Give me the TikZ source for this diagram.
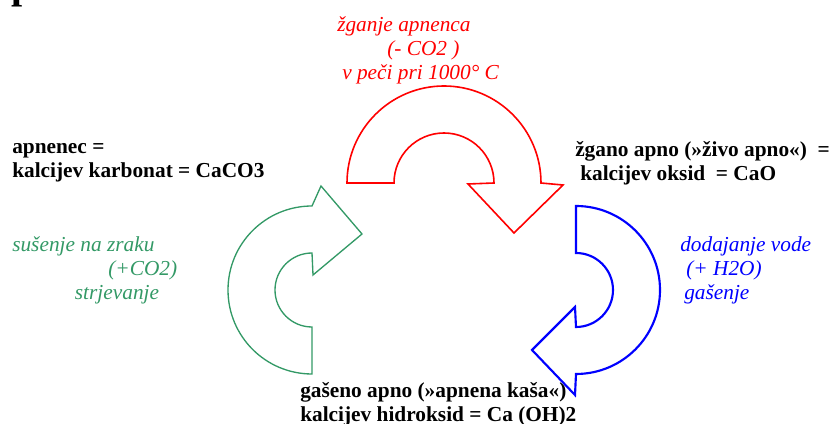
\documentclass[tikz,border=0pt]{standalone}
\usepackage{fontspec}
\setmainfont{Liberation Serif}
\definecolor{airgreen}{RGB}{51,153,102}

\begin{document}
\begin{tikzpicture}[x=0.75pt,y=0.75pt,line join=miter,
  state text/.style={font=\fontsize{16}{18}\selectfont\bfseries,align=left,anchor=west,inner sep=0pt},
  process text/.style={font=\fontsize{16}{18}\selectfont\itshape,align=left,anchor=west,inner sep=0pt},
  big arrow/.style={line width=1.2pt}]

  \useasboundingbox (0,0) rectangle (832,424);

  \node[state text,font=\fontsize{30}{36}\selectfont\bfseries,anchor=base west] (title) at (11,425) {p};

  % the three arrows
  \draw[big arrow,red] (347,241) arc[start angle=180,end angle=0,radius=72.75pt]
    -- (563,239) -- (514,191) -- (468,240) -- (494,241)
    arc[start angle=0,end angle=180,radius=37.5pt] -- cycle;
  \draw[big arrow,blue,line width=1.6pt] (576,218) arc[start angle=90,end angle=-90,radius=63pt]
    -- (575,29) -- (532,74) -- (575,117) -- (576,97)
    arc[start angle=-90,end angle=90,radius=27.75pt] -- cycle;
  \draw[big arrow,airgreen,line width=1pt] (312,50) arc[start angle=270,end angle=90,radius=63pt]
    -- (321,238) -- (362,190) -- (313,149) -- (312,171)
    arc[start angle=90,end angle=270,radius=27.75pt] -- cycle;

  % substances
  \node[state text] (lime) at (12,261) {apnenec =\\kalcijev karbonat = CaCO3};
  \node[state text] (quicklime) at (575,261) {žgano apno (»živo apno«)\ \ =\\\hspace*{3.75pt}kalcijev oksid\ \ = CaO};
  \node[state text] (slakedlime) at (300,20) {gašeno apno (»apnena kaša«)\\kalcijev hidroksid = Ca (OH)2};

  % processes
  \node[process text,red] (burning) at (337,374) {žganje apnenca\\\hspace*{37.5pt}(- CO2 )\\\hspace*{3.75pt}v peči pri 1000° C};
  \node[process text,blue] (slaking) at (680,154) {dodajanje vode\\\hspace*{4.5pt}(+ H2O)\\\hspace*{3pt}gašenje};
  \node[process text,airgreen] (hardening) at (12,154) {sušenje na zraku\\\hspace*{72pt}(+CO2)\\\hspace*{47pt}strjevanje};
\end{tikzpicture}
\end{document}
